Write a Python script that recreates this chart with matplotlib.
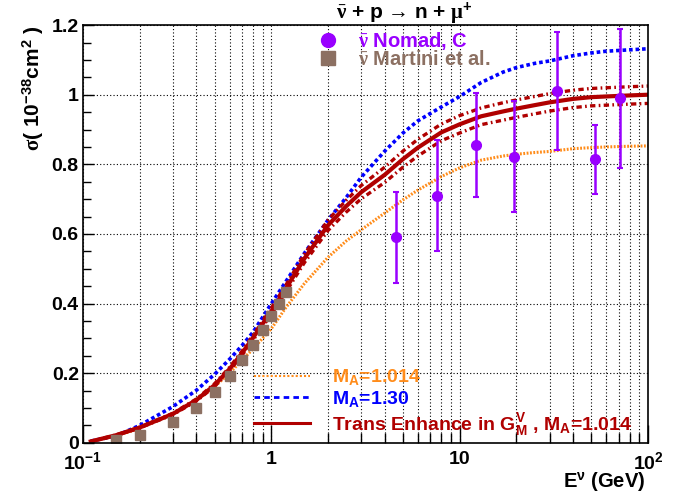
import numpy as np
import matplotlib
matplotlib.use("Agg")
import matplotlib.pyplot as plt
from matplotlib.lines import Line2D
from matplotlib.ticker import FixedLocator, FixedFormatter, MultipleLocator

plt.rcParams["font.family"] = ["Liberation Sans", "DejaVu Sans"]
plt.rcParams["font.weight"] = "bold"
plt.rcParams["mathtext.fontset"] = "custom"
plt.rcParams["mathtext.rm"] = "Liberation Serif"
plt.rcParams["mathtext.it"] = "Liberation Serif:italic"
plt.rcParams["mathtext.bf"] = "Liberation Sans:bold"
plt.rcParams["mathtext.default"] = "regular"

# neutrino energy grid (GeV) for the model curves
energy = [0.11, 0.15, 0.2, 0.3, 0.4, 0.5, 0.6, 0.7, 0.8, 1.0, 1.2, 1.5, 2.0, 2.5, 3.0,
          4.0, 5.0, 6.0, 8.0, 10, 13, 17, 20, 25, 30, 40, 50, 60, 80, 100]

# M_A = 1.014 (orange)
sigma_ma1014 = [0.004, 0.02, 0.042, 0.084, 0.122, 0.162, 0.2, 0.238, 0.27, 0.328, 0.39, 0.458,
                0.533, 0.58, 0.612, 0.66, 0.698, 0.726, 0.765, 0.79, 0.812, 0.824, 0.829,
                0.834, 0.837, 0.845, 0.848, 0.85, 0.852, 0.853]
# M_A = 1.30 (blue)
sigma_ma130 = [0.005, 0.02, 0.05, 0.104, 0.151, 0.197, 0.24, 0.28, 0.318, 0.4, 0.465, 0.545,
               0.64, 0.705, 0.763, 0.838, 0.89, 0.925, 0.965, 0.995, 1.035, 1.065, 1.078,
               1.09, 1.097, 1.112, 1.12, 1.125, 1.129, 1.132]
# transverse enhancement (red) with its band
sigma_te = [0.004, 0.022, 0.044, 0.083, 0.123, 0.166, 0.212, 0.258, 0.302, 0.378, 0.445, 0.53,
            0.625, 0.68, 0.72, 0.77, 0.815, 0.848, 0.892, 0.915, 0.938, 0.952, 0.96, 0.97,
            0.978, 0.988, 0.993, 0.995, 0.998, 1.0]
sigma_te_up = [0.004, 0.023, 0.045, 0.085, 0.126, 0.17, 0.217, 0.264, 0.309, 0.387, 0.455,
               0.542, 0.64, 0.697, 0.739, 0.792, 0.838, 0.872, 0.916, 0.94, 0.962, 0.977,
               0.985, 0.995, 1.003, 1.013, 1.018, 1.02, 1.023, 1.025]
sigma_te_lo = [0.004, 0.021, 0.043, 0.081, 0.12, 0.162, 0.207, 0.252, 0.295, 0.369, 0.435,
               0.518, 0.61, 0.663, 0.701, 0.748, 0.792, 0.824, 0.868, 0.89, 0.914, 0.927,
               0.935, 0.945, 0.953, 0.963, 0.968, 0.97, 0.973, 0.975]

# NOMAD data
nomad_e = [4.6, 7.6, 12.2, 19.5, 33, 52, 71]
nomad_sigma = [0.59, 0.71, 0.855, 0.822, 1.01, 0.814, 0.99]
nomad_err_lo = [0.13, 0.16, 0.15, 0.16, 0.17, 0.10, 0.20]
nomad_err_hi = [0.13, 0.16, 0.15, 0.16, 0.17, 0.10, 0.20]

# Martini et al. points
martini_e = [0.15, 0.2, 0.3, 0.4, 0.5, 0.6, 0.7, 0.8, 0.9, 1.0, 1.1, 1.2]
martini_sigma = [0.008, 0.023, 0.06, 0.1, 0.145, 0.191, 0.238, 0.281, 0.323, 0.363, 0.399, 0.433]

red = "#b00000"
blue = "#0000ff"
orange = "#ff8c1a"
purple = "#9900ff"
brown = "#8c7062"

fig = plt.figure(figsize=(6.86, 4.97), dpi=100)
ax = fig.add_axes([0.121, 0.109, 0.8236, 0.8405])

ax.plot(energy, sigma_ma1014, color=orange, lw=2.2, ls=(0, (0.6, 0.5)))
ax.plot(energy, sigma_ma130, color=blue, lw=2.6, ls=(0, (1, 0.8)))
ax.plot(energy, sigma_te_up, color=red, lw=2.4, ls=(0, (1.6, 1.0, 0.5, 1.0)))
ax.plot(energy, sigma_te_lo, color=red, lw=2.4, ls=(0, (1.6, 1.0, 0.5, 1.0)))
ax.plot(energy, sigma_te, color=red, lw=3)

ax.plot(martini_e, martini_sigma, ls="none", marker="s", ms=7, color=brown)
ax.errorbar(nomad_e, nomad_sigma, yerr=[nomad_err_lo, nomad_err_hi], fmt="o", ms=7,
            color=purple, ecolor=purple, elinewidth=1.8, capsize=2, capthick=1.5)

ax.set_xscale("log")
ax.set_xlim(0.1, 100)
ax.set_ylim(0, 1.2)

ax.xaxis.set_major_locator(FixedLocator([0.1, 1, 10, 100]))
ax.xaxis.set_major_formatter(FixedFormatter(["10$^{-1}$", "1", "10", "10$^{2}$"]))
minors = [m * d for d in [0.1, 1, 10] for m in range(2, 10)]
ax.xaxis.set_minor_locator(FixedLocator(minors))
ax.xaxis.set_minor_formatter(FixedFormatter([""] * len(minors)))
ax.yaxis.set_minor_locator(MultipleLocator(0.05))
ax.set_yticks([0, 0.2, 0.4, 0.6, 0.8, 1.0, 1.2])
ax.set_yticklabels(["0", "0.2", "0.4", "0.6", "0.8", "1", "1.2"])

ax.tick_params(axis="both", which="both", direction="in", top=False, right=False,
               labelsize=14, width=1)
ax.tick_params(axis="x", which="major", length=13, pad=6)
ax.tick_params(axis="x", which="minor", length=7)
ax.tick_params(axis="y", which="major", length=8, pad=3)
ax.tick_params(axis="y", which="minor", length=6)
for lab in ax.get_xticklabels() + ax.get_yticklabels():
    lab.set_fontweight("bold")

ax.grid(True, which="major", axis="both", color="k", lw=0.8, ls=(0, (1, 2)))
ax.grid(True, which="minor", axis="x", color="k", lw=0.8, ls=(0, (1, 2)))
for sp in ax.spines.values():
    sp.set_linewidth(1.2)

fig.text(0.589, 0.972, r"$\mathrm{\bar{\nu}}$ + p → n + $\mathrm{\mu}^{+}$",
         ha="center", va="center", fontsize=15, fontweight="bold")
ax.set_ylabel(r"$\mathrm{\sigma}$( 10$^{-38}$cm$^{2}$ )", fontsize=15, fontweight="bold",
              loc="top")
ax.set_xlabel(r"E$^{\nu}$ (GeV)", fontsize=14.5, fontweight="bold")
ax.xaxis.set_label_coords(0.995, -0.066)
ax.xaxis.label.set_ha("right")
ax.xaxis.label.set_va("top")

h1 = [Line2D([], [], ls="none", marker="o", ms=10, color=purple),
      Line2D([], [], ls="none", marker="s", ms=10, color=brown)]
leg1 = ax.legend(h1, [r"$\mathrm{\bar{\nu}}$ Nomad, C", r"$\mathrm{\bar{\nu}}$ Martini et al."],
                 loc="upper left", bbox_to_anchor=(0.383, 1.008), frameon=False,
                 prop={"size": 14.5, "weight": "bold"}, handletextpad=0.5,
                 labelspacing=-0.08, borderaxespad=0)
for t, c in zip(leg1.get_texts(), [purple, brown]):
    t.set_color(c)
ax.add_artist(leg1)

h2 = [Line2D([], [], color=orange, lw=1.5, ls=(0, (1, 1))),
      Line2D([], [], color=blue, lw=2, ls=(0, (2, 1.5))),
      Line2D([], [], color=red, lw=2.2)]
leg2 = ax.legend(h2, ["M$_{A}$=1.014", "M$_{A}$=1.30",
                      r"Trans Enhance in G$_{M}^{V}$ , M$_{A}$=1.014"],
                 loc="lower left", bbox_to_anchor=(0.285, -0.012), frameon=False,
                 prop={"size": 14, "weight": "bold"}, handlelength=2.9,
                 handletextpad=1.1, labelspacing=0.1, borderaxespad=0.1)
for t, c in zip(leg2.get_texts(), [orange, blue, red]):
    t.set_color(c)

fig.savefig("out.png", dpi=100)
